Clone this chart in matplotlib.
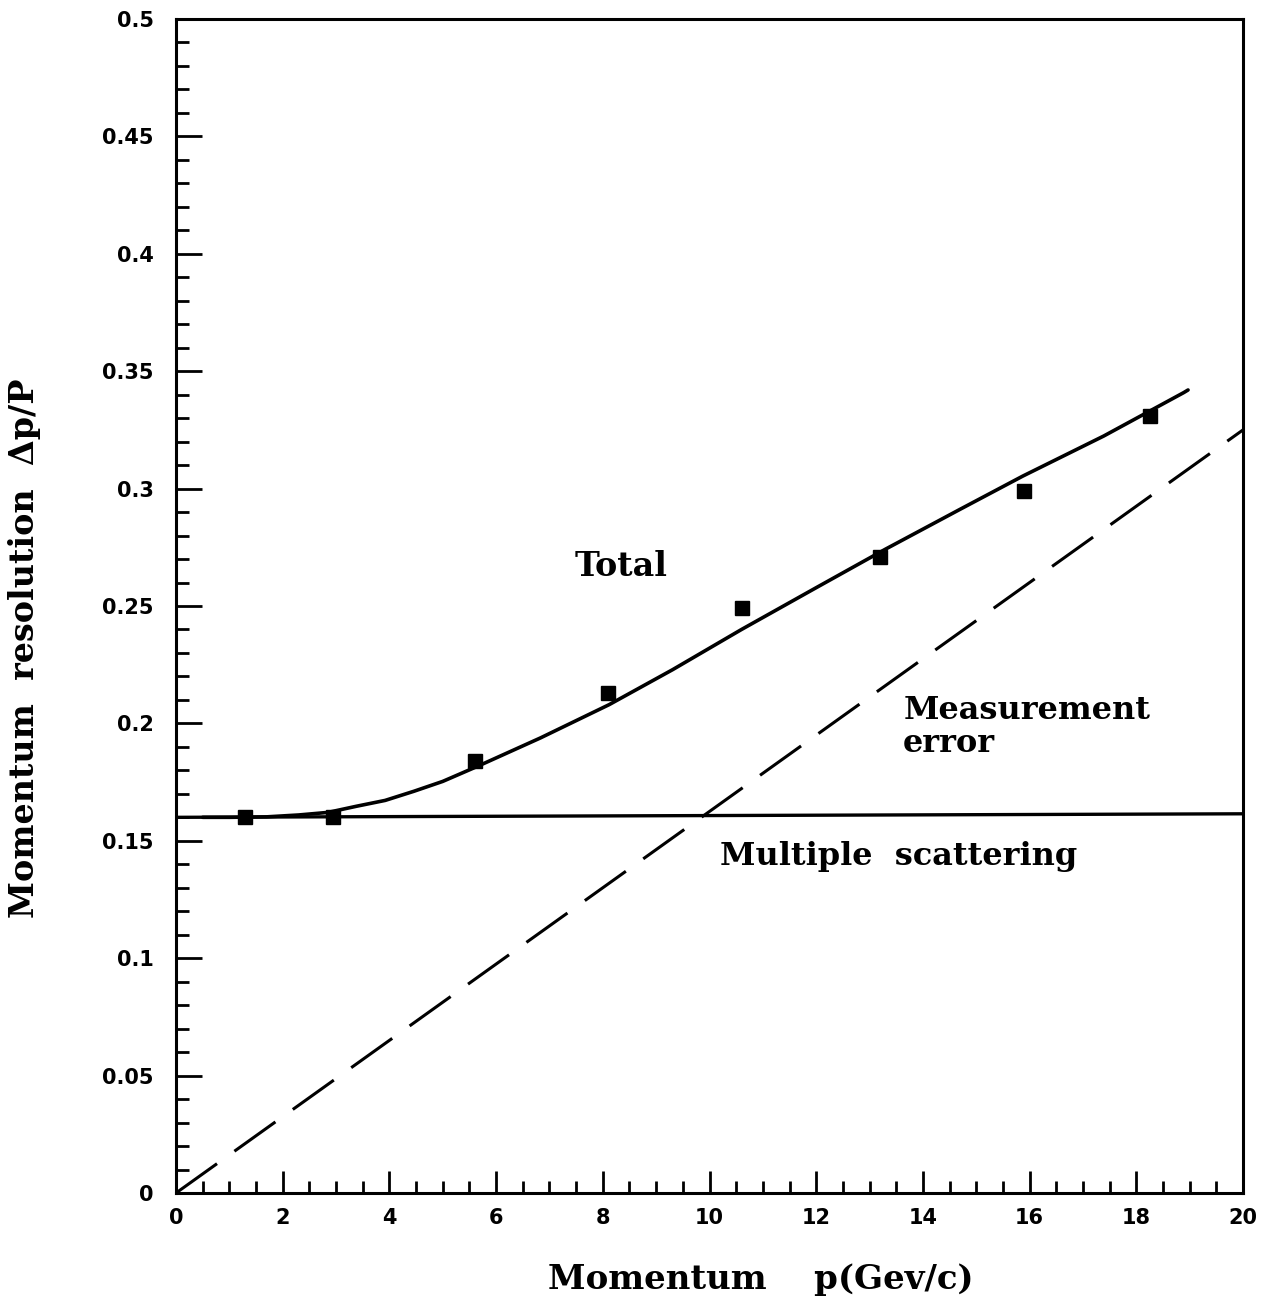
import matplotlib
matplotlib.use("Agg")
import matplotlib.pyplot as plt
from matplotlib.ticker import MultipleLocator, FixedFormatter, FixedLocator

# ---- data ----
p_meas = [1.3, 2.95, 5.6, 8.1, 10.6, 13.2, 15.9, 18.25]
res_meas = [0.160, 0.160, 0.184, 0.213, 0.249, 0.271, 0.299, 0.331]

p_total = [0.5, 1.0, 1.7, 2.3, 2.85, 3.38, 3.92, 4.46, 5.0, 5.65, 6.83, 8.12,
           9.31, 10.6, 12.0, 13.29, 14.69, 15.87, 17.39, 18.89, 18.97]
res_total = [0.160, 0.160, 0.1602, 0.161, 0.1621, 0.1647, 0.1672, 0.1711, 0.1753,
             0.1817, 0.1938, 0.208, 0.2229, 0.240, 0.2578, 0.2741, 0.2911,
             0.3053, 0.3224, 0.3409, 0.342]

p_scatter = [0.0, 20.0]
res_scatter = [0.160, 0.1615]

p_merr = [0.0, 20.0]
res_merr = [0.0, 0.325]

x_ticks = [0, 2, 4, 6, 8, 10, 12, 14, 16, 18, 20]
x_labels = ["0", "2", "4", "6", "8", "10", "12", "14", "16", "18", "20"]
y_ticks = [0, 0.05, 0.1, 0.15, 0.2, 0.25, 0.3, 0.35, 0.4, 0.45, 0.5]
y_labels = ["0", "0.05", "0.1", "0.15", "0.2", "0.25", "0.3", "0.35", "0.4", "0.45", "0.5"]

# ---- figure ----
fig = plt.figure(figsize=(12.64, 13.07), dpi=100)
ax = fig.add_axes([176 / 1264, 1 - 1193 / 1307, (1243 - 176) / 1264, (1193 - 19) / 1307])

ax.plot(p_total, res_total, color="black", lw=2.6, solid_capstyle="round",
        solid_joinstyle="round")
ax.plot(p_scatter, res_scatter, color="black", lw=2.4)
ax.plot(p_merr, res_merr, color="black", lw=2.2, dashes=(16.5, 7))
ax.plot(p_meas, res_meas, linestyle="none", marker="s", color="black", markersize=10)

ax.set_xlim(0, 20)
ax.set_ylim(0, 0.5)

ax.xaxis.set_major_locator(FixedLocator(x_ticks))
ax.xaxis.set_major_formatter(FixedFormatter(x_labels))
ax.xaxis.set_minor_locator(MultipleLocator(0.5))
ax.yaxis.set_major_locator(FixedLocator(y_ticks))
ax.yaxis.set_major_formatter(FixedFormatter(y_labels))
ax.yaxis.set_minor_locator(MultipleLocator(0.01))

ax.tick_params(which="both", direction="in", top=False, right=False, width=2.0)
ax.tick_params(axis="x", which="major", length=16, pad=11)
ax.tick_params(axis="x", which="minor", length=9)
ax.tick_params(axis="y", which="major", length=19, pad=16)
ax.tick_params(axis="y", which="minor", length=9)

for lab in ax.get_xticklabels() + ax.get_yticklabels():
    lab.set_fontfamily("DejaVu Sans")
    lab.set_fontweight("bold")
    lab.set_fontsize(15)

for s in ax.spines.values():
    s.set_linewidth(2.2)

tfont = dict(family="DejaVu Serif", weight="bold", color="black")

ax.text(7.48, 0.267, "Total", fontsize=24, va="center", ha="left", **tfont)
ax.text(13.63, 0.1985, "Measurement\nerror", fontsize=23, va="center", ha="left",
        linespacing=1.05, **tfont)
ax.text(10.2, 0.1435, "Multiple  scattering", fontsize=23, va="center", ha="left", **tfont)

fig.text(761 / 1264, 1 - 1280 / 1307, "Momentum    p(Gev/c)", fontsize=24.5,
         ha="center", va="center", **tfont)
fig.text(25 / 1264, 1 - 648 / 1307, "Momentum  resolution  \u0394p/P", fontsize=24,
         ha="center", va="center", rotation=90, **tfont)

fig.savefig("out.png", dpi=100, facecolor="white")
